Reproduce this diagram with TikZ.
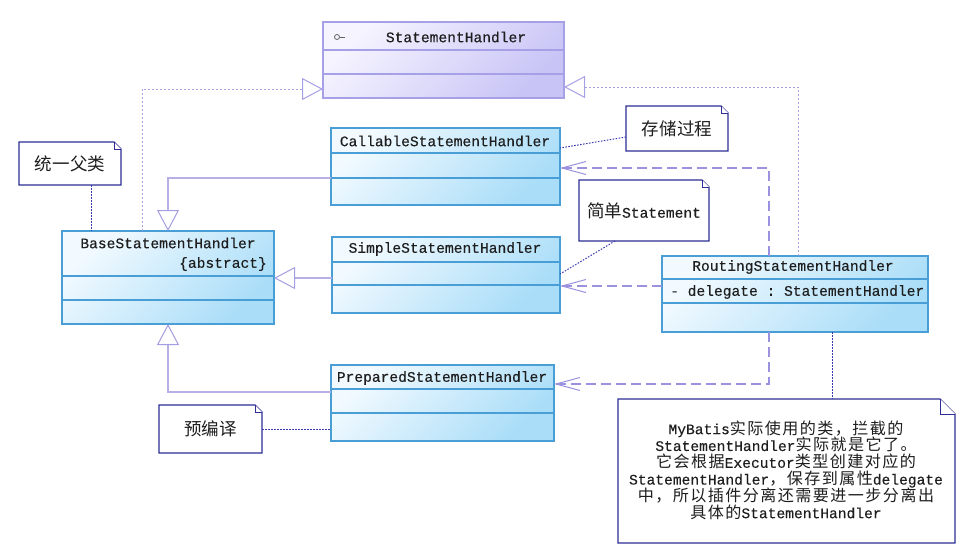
\documentclass[tikz,border=0pt]{standalone}
\usepackage{fontspec}
\setmonofont[FakeBold=0.25]{Liberation Mono}
\newfontfamily\cjk[Scale=1.2]{Noto Sans CJK SC}
\newfontfamily\cjkn[Scale=1.1, LetterSpace=9]{Noto Sans CJK SC}
\usetikzlibrary{arrows.meta}
\definecolor{clsborder}{HTML}{4A9ED6}
\definecolor{clstop}{HTML}{F2FAFF}
\definecolor{clsbot}{HTML}{A9DDF8}
\definecolor{ifborder}{HTML}{A6A0E6}
\definecolor{iftop}{HTML}{F6F4FF}
\definecolor{ifbot}{HTML}{C8C4F6}
\definecolor{genline}{HTML}{B6B0E6}
\definecolor{tipcol}{HTML}{A49EE2}
\definecolor{depline}{HTML}{9A92DE}
\definecolor{noteline}{HTML}{2E2E96}
\definecolor{notedot}{HTML}{3A3AB0}
\definecolor{txt}{HTML}{1E1E1E}
\newcommand\zh[1]{{\cjk #1}}
\newcommand\zn[1]{{\cjkn #1}}
\newcommand\drawnote[2]{%
  \draw[noteb] (#1.north west) -- ([xshift=-#2]#1.north east) -- ([yshift=-#2]#1.north east) -- (#1.south east) -- (#1.south west) -- cycle;
  \draw[noteb, line width=0.8pt] ([xshift=-#2]#1.north east) -- ++(0,-#2) -- ([yshift=-#2]#1.north east);}
\tikzset{
  cls/.style={draw=clsborder, line width=1.2pt, top color=clstop, bottom color=clsbot, shading angle=45, anchor=north west, inner sep=0pt, outer sep=0pt},
  ifc/.style={draw=ifborder, line width=1.2pt, top color=iftop, bottom color=ifbot, shading angle=45, anchor=north west, inner sep=0pt, outer sep=0pt},
  clsdiv/.style={draw=clsborder, line width=1.2pt},
  ifdiv/.style={draw=ifborder, line width=1.2pt},
  lbl/.style={font=\ttfamily\fontsize{14.6}{16.8}\selectfont, text=txt, inner sep=0pt},
  notebox/.style={font=\ttfamily\fontsize{14.6}{16.8}\selectfont, text=txt, inner sep=0pt, outer sep=0pt, align=center},
  noteb/.style={draw=noteline, line width=1.2pt, fill=white},
  gen/.style={draw=genline, line width=1.8pt, -{Triangle[open, length=21pt, width=22pt, line width=1pt, color=tipcol, fill=white]}},
  realize/.style={draw=depline!85, line width=1pt, dash pattern=on 2pt off 2pt, -{Triangle[open, length=21pt, width=22pt, line width=1pt, color=ifborder, fill=white]}},
  dep/.style={draw=depline, line width=1.1pt, dash pattern=on 10pt off 5pt, -{Straight Barb[length=24pt, width=13pt, line width=1pt]}},
  nlink/.style={draw=notedot, line width=1pt, dash pattern=on 1.5pt off 1.5pt},
}
\begin{document}
\lineskiplimit=-20pt
\begin{tikzpicture}[x=1pt, y=-1pt]
\useasboundingbox[fill=white] (0,0) rectangle (971,546);

% interface
\node[ifc, minimum width=241pt, minimum height=76pt] (sh) at (323,22) {};
\draw[ifdiv] (sh.west |- 0,50) -- (sh.east |- 0,50);
\draw[ifdiv] (sh.west |- 0,74) -- (sh.east |- 0,74);
\node[lbl] (shn) at (456,37) {StatementHandler};
\node[circle, draw=txt!70, line width=0.8pt, minimum size=5pt, inner sep=0pt] (shi) at (337,37) {};
\coordinate (shie) at (345,37);
\draw[txt!70, line width=0.8pt] (shi.east) -- (shie);

% classes
\node[cls, minimum width=212pt, minimum height=93pt] (base) at (62,231) {};
\draw[clsdiv] (base.west |- 0,276) -- (base.east |- 0,276);
\draw[clsdiv] (base.west |- 0,300) -- (base.east |- 0,300);
\node[lbl] (basen) at (168,243) {BaseStatementHandler};
\node[lbl, anchor=east] (basea) at (267,264) {\{abstract\}};

\node[cls, minimum width=229pt, minimum height=77pt] (call) at (331,128) {};
\draw[clsdiv] (call.west |- 0,153) -- (call.east |- 0,153);
\draw[clsdiv] (call.west |- 0,178) -- (call.east |- 0,178);
\node[lbl] (calln) at (445,141) {CallableStatementHandler};

\node[cls, minimum width=228pt, minimum height=76pt] (simple) at (332,237) {};
\draw[clsdiv] (simple.west |- 0,262) -- (simple.east |- 0,262);
\draw[clsdiv] (simple.west |- 0,285) -- (simple.east |- 0,285);
\node[lbl] (simplen) at (445,249) {SimpleStatementHandler};

\node[cls, minimum width=223pt, minimum height=76pt] (prep) at (331,365) {};
\draw[clsdiv] (prep.west |- 0,389) -- (prep.east |- 0,389);
\draw[clsdiv] (prep.west |- 0,413) -- (prep.east |- 0,413);
\node[lbl] (prepn) at (442,378) {PreparedStatementHandler};

\node[cls, minimum width=266pt, minimum height=76pt] (rt) at (662,256) {};
\draw[clsdiv] (rt.west |- 0,279) -- (rt.east |- 0,279);
\draw[clsdiv] (rt.west |- 0,303) -- (rt.east |- 0,303);
\node[lbl] (rtn) at (793,267) {RoutingStatementHandler};
\node[lbl, anchor=west] (rta) at (670,292) {- delegate : StatementHandler};

% connectors to interface
\draw[realize] ([xshift=80pt]base.north west) |- (sh.west |- 0,89);
\draw[realize] ([xshift=136pt]rt.north west) |- (sh.east |- 0,87);

% generalizations
\draw[gen] (call.west |- 0,178) -| ([xshift=106pt]base.north west);
\draw[gen] (simple.west |- 0,278) -- (base.east |- 0,278);
\draw[gen] (prep.west |- 0,392) -| ([xshift=106pt]base.south west);

% dependencies
\draw[dep] (rt.west |- 0,286) -- (simple.east |- 0,286);
\draw[dep] ([xshift=107pt]rt.north west) |- (call.east |- 0,168);
\draw[dep] ([xshift=107pt]rt.south west) |- (prep.east |- 0,384);

% notes
\node[notebox, minimum width=102pt, minimum height=43pt] (n1) at (70,163.5) {};
\drawnote{n1}{7pt}
\node[notebox] (n1t) at (70,164) {\zh{统一父类}};

\node[notebox, minimum width=102pt, minimum height=45pt] (n2) at (677,128.5) {};
\drawnote{n2}{7pt}
\node[notebox] (n2t) at (677,129) {\zh{存储过程}};

\node[notebox, minimum width=130pt, minimum height=61pt] (n3) at (644,210.5) {};
\drawnote{n3}{7pt}
\node[notebox] (n3t) at (644,211) {\zh{简单}Statement};

\node[notebox, minimum width=103pt, minimum height=48pt] (n4) at (210.5,429) {};
\drawnote{n4}{7pt}
\node[notebox] (n4t) at (210.5,429) {\zh{预编译}};

\node[notebox, minimum width=337pt, minimum height=144pt] (n5) at (786.5,471) {};
\drawnote{n5}{15pt}
\node[notebox] (n5t) at (786,470) {MyBatis\zn{实际使用的类，拦截的}\\StatementHandler\zn{实际就是它了。}\\\zn{它会根据}Executor\zn{类型创建对应的}\\StatementHandler\zn{，保存到属性}delegate\\\zn{中，所以插件分离还需要进一步分离出}\\\zn{具体的}StatementHandler};

% note links
\draw[nlink] ([xshift=21pt]n1.south) -- ([xshift=21pt]n1.south |- base.north);
\draw[nlink] (n2.west |- 0,137) -- (call.east |- 0,148);
\draw[nlink] ([xshift=-29pt]n3.south) -- (simple.east |- 0,274);
\draw[nlink] (n4.east) -- (prep.west |- n4.east);
\draw[nlink] ([xshift=170pt]rt.south west) -- ([xshift=170pt]rt.south west |- n5.north);
\end{tikzpicture}
\end{document}
